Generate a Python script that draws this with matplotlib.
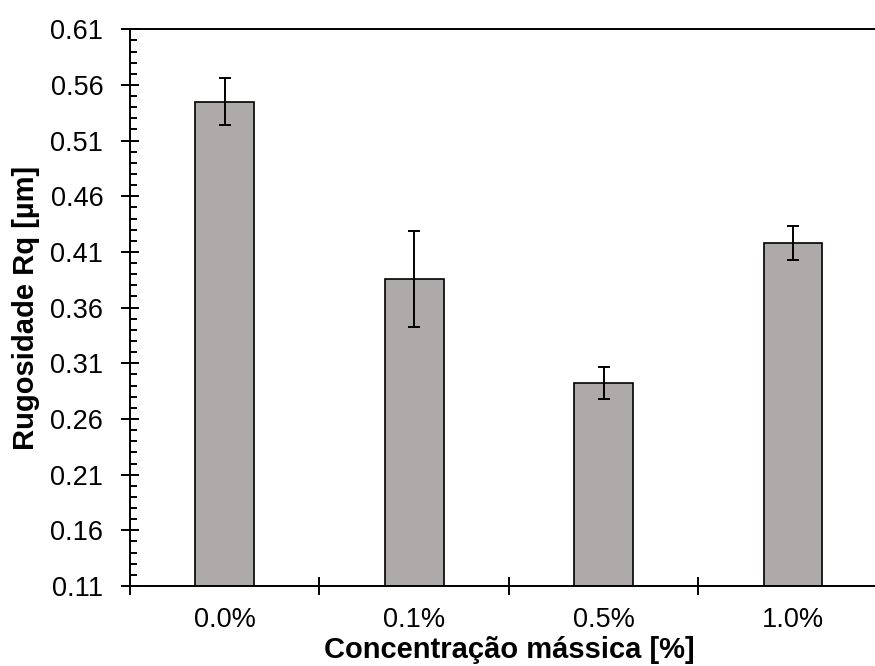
import numpy as np
import matplotlib.pyplot as plt
from matplotlib.ticker import MultipleLocator, FixedLocator, NullFormatter

plt.rcParams['font.family'] = ['Liberation Sans', 'DejaVu Sans']

# Rugosidade média por concentração de nanopartículas
concentracoes = ['0.0%', '0.1%', '0.5%', '1.0%']
rq_media = [0.545, 0.386, 0.292, 0.418]
rq_desvio = [0.021, 0.043, 0.0145, 0.015]

fig = plt.figure(figsize=(8.75, 6.66), dpi=100)
ax = fig.add_axes([0.1486, 0.1201, 0.866, 0.836])

x = np.arange(len(concentracoes))
ax.bar(x, rq_media, width=0.31, color='#AEAAAA', edgecolor='black', linewidth=1.2,
       zorder=2)
ax.errorbar(x, rq_media, yerr=rq_desvio, fmt='none', ecolor='black',
            elinewidth=1.4, capsize=4, capthick=1.4, zorder=3)

ax.set_xlim(-0.5, len(concentracoes) - 0.5)
ax.set_ylim(0.11, 0.61)

# eixo y: marcas principais a cada 0.05, secundárias a cada 0.01
yt = np.arange(0.11, 0.6101, 0.05)
ax.set_yticks(yt)
ax.set_yticklabels([f'{v:.2f}' for v in yt])
ax.yaxis.set_minor_locator(MultipleLocator(0.01))
ax.tick_params(axis='y', which='major', direction='inout', length=12.5, width=1.4,
               labelsize=19.5, pad=13)
ax.tick_params(axis='y', which='minor', direction='in', length=5, width=1.4)

# eixo x: marcas nas divisões, rótulos no centro das categorias
ax.xaxis.set_major_locator(FixedLocator(np.arange(-0.5, len(concentracoes), 1.0)))
ax.xaxis.set_major_formatter(NullFormatter())
ax.xaxis.set_minor_locator(FixedLocator(x))
ax.set_xticklabels(concentracoes, minor=True)
ax.tick_params(axis='x', which='major', direction='inout', length=12.5, width=1.4)
ax.tick_params(axis='x', which='minor', length=0, labelsize=19.5, pad=15)

for lado in ['left', 'bottom', 'top']:
    ax.spines[lado].set_linewidth(1.4)
ax.spines['right'].set_visible(False)

ax.set_xlabel('Concentração mássica [%]', fontsize=21, fontweight='bold', labelpad=2)
ax.set_ylabel('Rugosidade Rq [µm]', fontsize=21, fontweight='bold', labelpad=7)

fig.savefig('out.png', dpi=100)
